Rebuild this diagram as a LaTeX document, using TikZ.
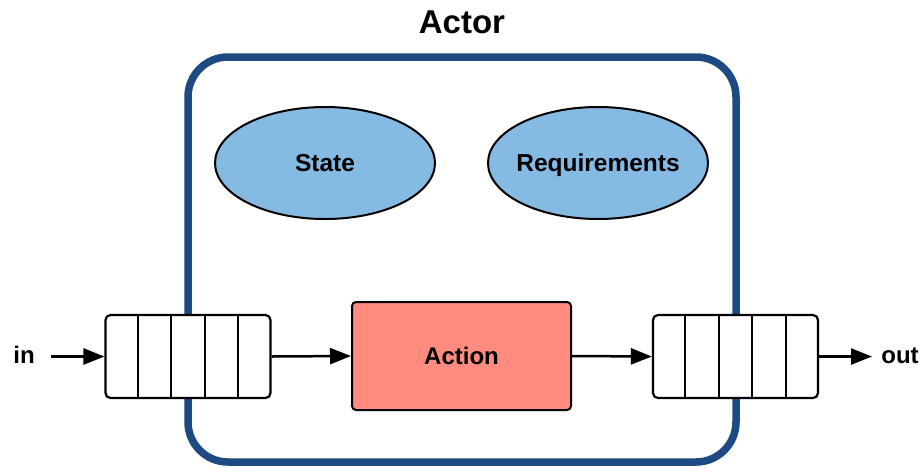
\documentclass[tikz,border=0pt]{standalone}
\usepackage{fontspec}
\setmainfont{Liberation Sans}
\usetikzlibrary{arrows.meta,calc,shapes.geometric}
\definecolor{framecol}{HTML}{1D4A82}
\definecolor{ellfill}{HTML}{85BAE3}
\definecolor{actfill}{HTML}{FF8C7F}
\tikzset{
  lbl/.style={font=\bfseries\fontsize{24}{28}\selectfont, inner sep=0pt, text height=17.2pt, text depth=0pt},
  frm/.style={draw=framecol, line width=7.5pt, rounded corners=40pt, minimum width=548pt, minimum height=405pt, inner sep=0pt},
  ell/.style={ellipse, draw=black, line width=2pt, fill=ellfill, minimum width=220pt, minimum height=112pt, inner xsep=-30pt, inner ysep=0pt, font=\bfseries\fontsize{24.5}{28}\selectfont, text height=17.5pt, text depth=0pt},
  actbox/.style={draw=black, line width=2pt, fill=actfill, rounded corners=4pt, minimum width=219pt, minimum height=108pt, inner sep=0pt, font=\bfseries\fontsize{24}{28}\selectfont, text height=17.2pt, text depth=0pt},
  queue/.style={draw=black, line width=2.2pt, fill=white, rounded corners=5pt, minimum width=165pt, minimum height=83pt, inner sep=0pt},
  divl/.style={draw=black, line width=2.2pt},
  conn/.style={draw=black, line width=2.5pt, -{Triangle[length=21pt,width=16pt]}}
}
\begin{document}
\begin{tikzpicture}[x=1pt,y=-1pt]
\useasboundingbox (0,0) rectangle (924,467);
\node[font=\bfseries\fontsize{33}{38}\selectfont, inner sep=0pt, text height=23.6pt, text depth=0pt] (title) at (462,22) {Actor};
\node[frm] (frame) at (462,259.5) {};
\node[ell] (state) at (325,163) {State};
\node[ell] (req) at (598,163) {Requirements};
\node[actbox] (action) at (461.5,356) {Action};
\node[queue] (qin) at (188,356.5) {};
\node[queue] (qout) at (735.5,356.5) {};
\foreach \q in {qin,qout}{
  \foreach \i in {1,2,3,4}{
    \draw[divl] ($(\q.north west)!\i/5!(\q.north east)$) -- ($(\q.south west)!\i/5!(\q.south east)$);
  }
}
\node[lbl] (inlbl) at (24,355) {in};
\node[lbl] (outlbl) at (900,355) {out};
\coordinate (ins) at (51,356.5);
\coordinate (oute) at (872,356.5);
\draw[conn] (ins) -- (qin.west);
\draw[conn] (qin.east) -- (action.west);
\draw[conn] (action.east) -- (qout.west);
\draw[conn] (qout.east) -- (oute);
\end{tikzpicture}
\end{document}
